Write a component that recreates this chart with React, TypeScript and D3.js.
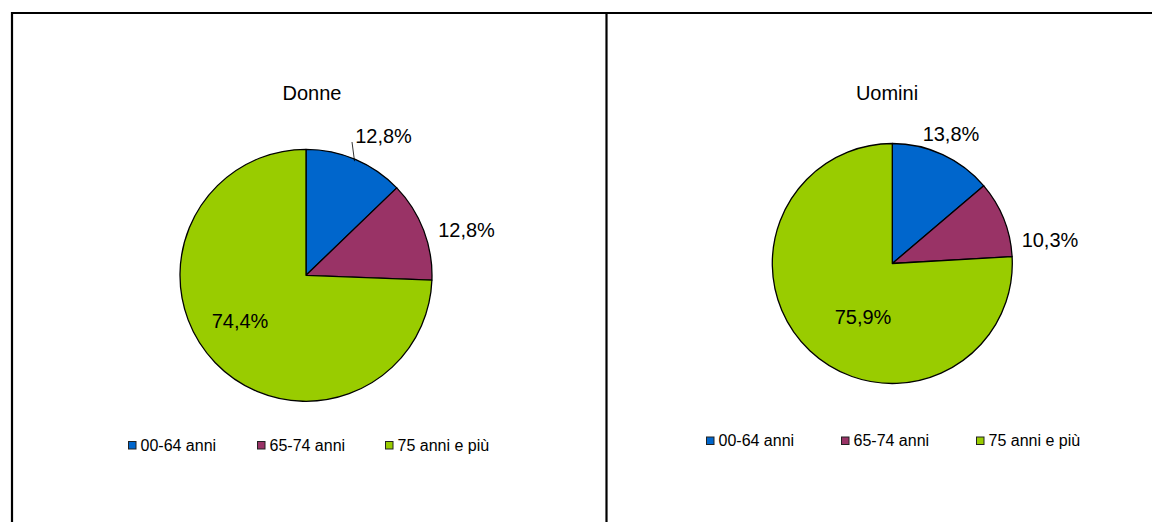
import React from "react";
import * as d3 from "d3";

const categories = ["00-64 anni", "65-74 anni", "75 anni e più"];
const donneValues = [12.8, 12.8, 74.4];
const uominiValues = [13.8, 10.3, 75.9];
const titles = ["Donne", "Uomini"];
const colors = ["#0066CC", "#993366", "#99CC00"];

const FONT = "'Liberation Sans', Arial, sans-serif";

type Layout = {
  cx: number;
  cy: number;
  r: number;
  titleX: number;
  titleY: number;
  labels: [number, number][]; // label centre offsets relative to pie centre
  leader: boolean[];
  legendX: number[];
  legendY: number;
};

const layouts: Layout[] = [
  {
    cx: 306,
    cy: 275.3,
    r: 126,
    titleX: 312,
    titleY: 100,
    labels: [
      [77.5, -139.8],
      [160.5, -45.8],
      [-66, 45.7],
    ],
    leader: [true, false, false],
    legendX: [128, 257, 385],
    legendY: 445,
  },
  {
    cx: 892.3,
    cy: 263.5,
    r: 120,
    titleX: 887,
    titleY: 100,
    labels: [
      [58.7, -130],
      [157.7, -24],
      [-29.3, 53.5],
    ],
    leader: [false, false, false],
    legendX: [706, 841, 976],
    legendY: 440.5,
  },
];

const fmt = (v: number) => v.toFixed(1).replace(".", ",") + "%";

function Pie({ values, title, layout }: { values: number[]; title: string; layout: Layout }) {
  const pie = d3
    .pie<number>()
    .sort(null)
    .value((d) => d)
    .startAngle(0)
    .endAngle(2 * Math.PI);
  const arcs = pie(values);
  const arc = d3.arc<d3.PieArcDatum<number>>().innerRadius(0).outerRadius(layout.r);
  return (
    <g>
      <text
        x={layout.titleX}
        y={layout.titleY}
        textAnchor="middle"
        fontFamily={FONT}
        fontSize={20}
        fill="#000"
      >
        {title}
      </text>
      <g transform={`translate(${layout.cx},${layout.cy})`}>
        {arcs.map((a, i) => (
          <path key={i} d={arc(a) || ""} fill={colors[i]} stroke="#000" strokeWidth={1.3} strokeLinejoin="round" />
        ))}
        {arcs.map((a, i) => {
          const [lx, ly] = layout.labels[i];
          const mid = (a.startAngle + a.endAngle) / 2;
          const ex = Math.sin(mid) * (layout.r - 2);
          const ey = -Math.cos(mid) * (layout.r - 2);
          return (
            <g key={"l" + i}>
              {layout.leader[i] && (
                <line x1={ex} y1={ey} x2={lx - 31.5} y2={ly + 6.5} stroke="#000" strokeWidth={0.8} />
              )}
              <text
                x={lx}
                y={ly + 7.2}
                textAnchor="middle"
                fontFamily={FONT}
                fontSize={20}
                fill="#000"
              >
                {fmt(values[i])}
              </text>
            </g>
          );
        })}
      </g>
      {categories.map((c, i) => (
        <g key={"lg" + i}>
          <rect
            x={layout.legendX[i] + 0.5}
            y={layout.legendY - 3.5}
            width={7.5}
            height={7.5}
            fill={colors[i]}
            stroke="#222"
            strokeWidth={1}
          />
          <text
            x={layout.legendX[i] + 12.5}
            y={layout.legendY + 5.5}
            fontFamily={FONT}
            fontSize={16}
            fill="#000"
          >
            {c}
          </text>
        </g>
      ))}
    </g>
  );
}

export default function App() {
  const series = [donneValues, uominiValues];
  return (
    <svg
      width={1152}
      height={522}
      style={{ position: "absolute", left: 0, top: 0, background: "#fff" }}
    >
      <rect x={0} y={0} width={1152} height={522} fill="#fff" />
      <line x1={12} y1={13} x2={1152} y2={13} stroke="#000" strokeWidth={2.2} />
      <line x1={12} y1={12} x2={12} y2={522} stroke="#000" strokeWidth={2.2} />
      <line x1={606.5} y1={12} x2={606.5} y2={522} stroke="#000" strokeWidth={2.2} />
      {series.map((v, i) => (
        <Pie key={i} values={v} title={titles[i]} layout={layouts[i]} />
      ))}
    </svg>
  );
}
